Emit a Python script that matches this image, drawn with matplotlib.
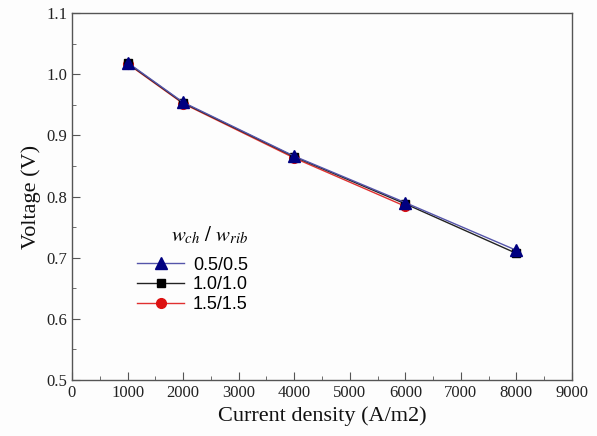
import numpy as np
import matplotlib
matplotlib.use("Agg")
import matplotlib.pyplot as plt
from matplotlib.ticker import MultipleLocator

current = [1000, 2000, 4000, 6000, 8000]
v_05 = [1.019, 0.954, 0.866, 0.790, 0.712]
v_10 = [1.018, 0.953, 0.865, 0.788, 0.707]
current_15 = [1000, 2000, 4000, 6000]
v_15 = [1.017, 0.952, 0.863, 0.784]
labels = ["0.5/0.5", "1.0/1.0", "1.5/1.5"]

plt.rcParams['mathtext.fontset'] = 'stix'
serif = "Liberation Serif"

fig = plt.figure(figsize=(5.97, 4.36), dpi=100)
fig.patch.set_facecolor("#fdfdfd")
ax = fig.add_axes([0.1206, 0.1284, 0.8375, 0.8418])
ax.set_facecolor("#fdfdfd")

ax.plot(current, v_05, color="#5555aa", lw=1.0, marker="^", ms=8,
        mfc="#000080", mec="#000080", label=labels[0], zorder=4)
ax.plot(current, v_10, color="#222222", lw=1.0, marker="s", ms=6,
        mfc="black", mec="black", label=labels[1], zorder=3)
ax.plot(current_15, v_15, color="#e03030", lw=1.0, marker="o", ms=7,
        mfc="#dd1111", mec="#dd1111", label=labels[2], zorder=2)

ax.set_xlim(0, 9000)
ax.set_ylim(0.5, 1.1)
ax.xaxis.set_major_locator(MultipleLocator(1000))
ax.xaxis.set_minor_locator(MultipleLocator(500))
ax.yaxis.set_major_locator(MultipleLocator(0.1))
ax.yaxis.set_minor_locator(MultipleLocator(0.05))
ax.yaxis.set_major_formatter(matplotlib.ticker.FormatStrFormatter("%.1f"))
ax.tick_params(which="both", direction="in", top=False, right=False,
               colors="#555555", labelcolor="#222222")
ax.tick_params(which="major", length=6)
ax.tick_params(which="minor", length=3)
for lab in ax.get_xticklabels() + ax.get_yticklabels():
    lab.set_fontfamily(serif)
    lab.set_fontsize(12)
for sp in ax.spines.values():
    sp.set_color("#555555")
    sp.set_linewidth(1.0)

ax.set_xlabel("Current density (A/m2)", fontfamily=serif, fontsize=16, color="#111111")
ax.set_ylabel("Voltage (V)", fontfamily=serif, fontsize=16, color="#111111")

leg = ax.legend(loc="upper left", bbox_to_anchor=(0.105, 0.46), frameon=False,
                title=r"$w_{ch}\ /\ w_{rib}$",
                prop={"family": "Liberation Sans", "size": 13},
                handlelength=2.6, handletextpad=0.5, labelspacing=0.15,
                borderpad=0.2, title_fontproperties={"size": 15})
leg._legend_box.align = "right"
leg._legend_box.sep = 8

fig.savefig("out.png", dpi=100, facecolor=fig.get_facecolor())
